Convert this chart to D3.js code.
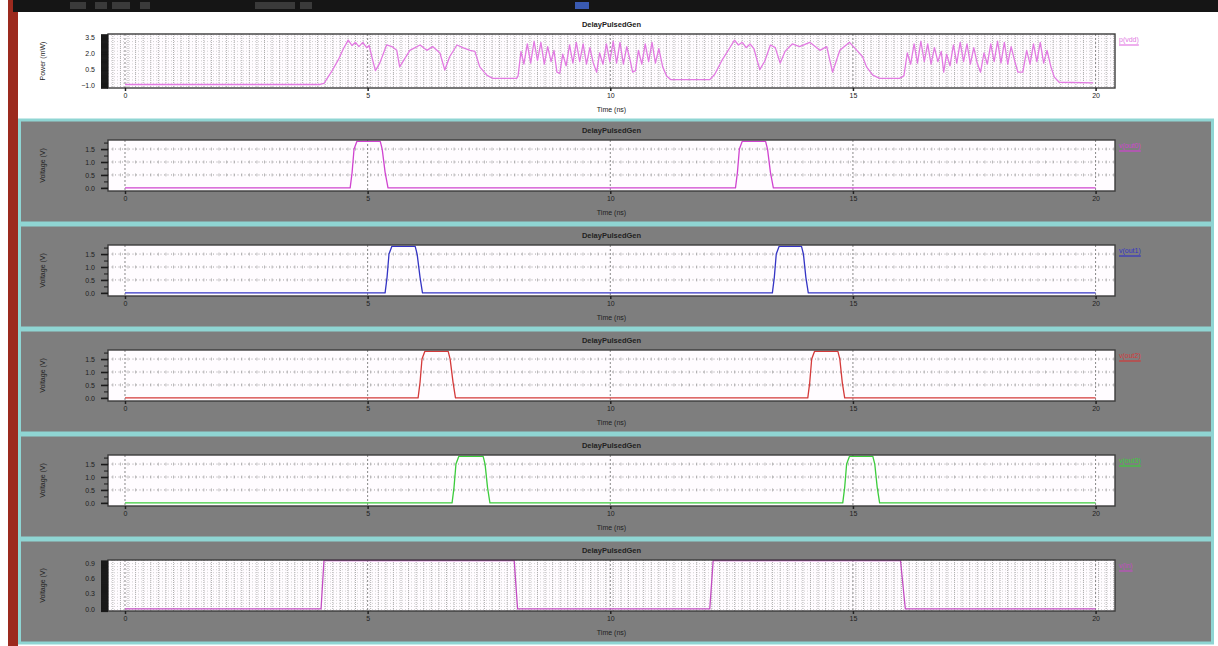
<!DOCTYPE html>
<html>
<head>
<meta charset="utf-8">
<script src="https://cdn.jsdelivr.net/npm/d3@7"></script>
<style>
body { margin: 0; background: #fff; overflow: hidden; }
svg text { font-family: "Liberation Sans", Arial, sans-serif; }
</style>
</head>
<body>
<svg id="chart" width="1218" height="646"></svg>
<script>
// ---- data ----
var chartTitle = "DelayPulsedGen";
var xTitle = "Time (ns)";
var xTickValues = [0, 5, 10, 15, 20];

var legendNames = ["p(vdd)", "v(out0)", "v(out1)", "v(out2)", "v(out3)", "v(in)"];
var yTitles = ["Power (mW)", "Voltage (V)", "Voltage (V)", "Voltage (V)", "Voltage (V)", "Voltage (V)"];

var powerTicks = [3.5, 2.0, 0.5, -1.0];
var pulseTicks = [1.5, 1.0, 0.5, 0.0];
var inTicks = [0.9, 0.6, 0.3, 0.0];

// p(vdd), [time ns, mW]
var powerPts = [
    [0, -0.95], [4.02, -0.95], [4.1, -0.85], [4.25, 0.2], [4.4, 1.4], [4.5, 2.4], [4.6, 3.2],
    [4.68, 2.7], [4.75, 3.0], [4.82, 2.6], [4.9, 3.0], [4.98, 2.5], [5.03, 2.7], [5.1, 1.4],
    [5.16, 0.35], [5.25, 1.05], [5.39, 2.75], [5.5, 2.6], [5.6, 2.25], [5.66, 0.7], [5.87, 2.25],
    [6.08, 2.75], [6.22, 2.25], [6.34, 2.6], [6.49, 2.0], [6.59, 0.4], [6.69, 1.65], [6.84, 2.75],
    [6.96, 2.5], [7.11, 2.25], [7.21, 2.15], [7.31, 0.7], [7.46, -0.1], [7.58, -0.38], [8.07, -0.38],
    [8.1, -0.15], [8.16, 2.15], [8.22, 0.95], [8.29, 2.85], [8.36, 1.05], [8.43, 3.1], [8.5, 1.3],
    [8.57, 3.0], [8.64, 0.95], [8.71, 2.6], [8.78, 1.2], [8.84, 2.25], [8.9, 0.2],
    [8.96, 0.1], [9.02, 1.9], [9.09, 0.8], [9.16, 2.75], [9.23, 1.05], [9.3, 3.0], [9.37, 1.2],
    [9.44, 2.85], [9.51, 0.95], [9.58, 2.5], [9.65, 1.05], [9.72, 0.2],
    [9.78, 2.0], [9.85, 0.95], [9.92, 2.85], [9.99, 1.2], [10.06, 3.1], [10.13, 1.05], [10.2, 3.0],
    [10.27, 0.95], [10.34, 2.6], [10.41, 1.3], [10.46, 0.2],
    [10.52, 0.35], [10.58, 2.25], [10.65, 0.95], [10.72, 2.85], [10.79, 1.2], [10.86, 3.0],
    [10.93, 1.05], [11.0, 2.4], [11.08, 0.7], [11.16, -0.15], [11.25, -0.5], [12.05, -0.5],
    [12.15, -0.02], [12.3, 1.3], [12.45, 2.4], [12.56, 3.2], [12.64, 2.75], [12.72, 3.0], [12.8, 2.5],
    [12.88, 2.85], [12.96, 2.4], [13.02, 1.4], [13.08, 0.45], [13.18, 1.2], [13.3, 2.75], [13.4, 2.5],
    [13.5, 1.05], [13.6, 2.15], [13.75, 2.85], [13.9, 2.6], [14.11, 3.0], [14.32, 2.25], [14.46, 2.6],
    [14.58, 0.2], [14.73, 2.25], [14.93, 3.0], [15.08, 2.25], [15.2, 1.65], [15.28, 0.7], [15.41, -0.08],
    [15.55, -0.38], [15.96, -0.38],
    [16.05, -0.15], [16.12, 2.0], [16.19, 0.95], [16.26, 2.85], [16.33, 1.05], [16.4, 3.1], [16.47, 1.2],
    [16.54, 2.85], [16.61, 0.95], [16.68, 2.5], [16.75, 1.2], [16.82, 2.15], [16.87, 0.2],
    [16.93, 1.9], [17.0, 0.8], [17.07, 2.75], [17.14, 1.05], [17.21, 3.0], [17.28, 1.2], [17.35, 2.85],
    [17.42, 0.95], [17.49, 2.5], [17.56, 1.05], [17.63, 0.2],
    [17.7, 2.0], [17.77, 0.95], [17.84, 2.85], [17.91, 1.2], [17.98, 3.1], [18.05, 1.05], [18.12, 3.0],
    [18.19, 0.95], [18.26, 2.6], [18.33, 1.3], [18.4, 0.2], [18.5, 0.2],
    [18.58, 2.25], [18.65, 0.95], [18.72, 2.85], [18.79, 1.2], [18.86, 3.0], [18.93, 1.05], [19.0, 2.25],
    [19.08, 0.7], [19.15, -0.26], [19.25, -0.74], [19.95, -0.8]
];

// delayed pulses, [time ns, V]
var out0Pts = [[0, 0], [4.64, 0], [4.68, 0.6], [4.72, 1.5], [4.78, 1.8], [5.26, 1.8], [5.3, 1.5], [5.36, 0.6], [5.42, 0],
    [12.58, 0], [12.62, 0.6], [12.66, 1.5], [12.72, 1.8], [13.2, 1.8], [13.24, 1.5], [13.3, 0.6], [13.36, 0], [20, 0]];
var out1Pts = [[0, 0], [5.36, 0], [5.4, 0.6], [5.44, 1.5], [5.5, 1.8], [5.98, 1.8], [6.02, 1.5], [6.08, 0.6], [6.13, 0],
    [13.34, 0], [13.38, 0.6], [13.42, 1.5], [13.48, 1.8], [13.94, 1.8], [13.98, 1.5], [14.03, 0.6], [14.08, 0], [20, 0]];
var out2Pts = [[0, 0], [6.04, 0], [6.08, 0.6], [6.12, 1.5], [6.18, 1.8], [6.66, 1.8], [6.7, 1.5], [6.76, 0.6], [6.81, 0],
    [14.07, 0], [14.11, 0.6], [14.15, 1.5], [14.21, 1.8], [14.69, 1.8], [14.73, 1.5], [14.78, 0.6], [14.83, 0], [20, 0]];
var out3Pts = [[0, 0], [6.74, 0], [6.78, 0.6], [6.82, 1.5], [6.88, 1.8], [7.38, 1.8], [7.42, 1.5], [7.47, 0.6], [7.52, 0],
    [14.79, 0], [14.83, 0.6], [14.87, 1.5], [14.93, 1.8], [15.41, 1.8], [15.45, 1.5], [15.5, 0.6], [15.55, 0], [20, 0]];
var inPts = [[0, 0], [4.04, 0], [4.1, 0.95], [8.02, 0.95], [8.09, 0], [12.05, 0], [12.12, 0.95], [15.98, 0.95], [16.08, 0], [20, 0]];

var seriesColors = ["#e27ae2", "#d044d0", "#3434c4", "#d43a3a", "#3ccc3c", "#c24cc2"];

// ---- layout ----
var plotLeft = 108, plotRight = 1115;
var xDomain = [-0.35, 20.4];
var minorStep = 5 / 32;

var panels = [
    {top: 12, height: 106, plotTop: 34, plotBottom: 88, white: true, dense: true,
        yDomain: [-1.28, 3.78], ticks: powerTicks, hStep: 0.3, minor: 0.05, pts: powerPts},
    {top: 120, height: 103, plotTop: 140, plotBottom: 191, yDomain: [-0.12, 1.85], ticks: pulseTicks, minor: 0.25, pts: out0Pts},
    {top: 225, height: 103, plotTop: 245, plotBottom: 296, yDomain: [-0.12, 1.85], ticks: pulseTicks, minor: 0.25, pts: out1Pts},
    {top: 330, height: 103, plotTop: 350, plotBottom: 401, yDomain: [-0.12, 1.85], ticks: pulseTicks, minor: 0.25, pts: out2Pts},
    {top: 435, height: 103, plotTop: 455, plotBottom: 506, yDomain: [-0.12, 1.85], ticks: pulseTicks, minor: 0.25, pts: out3Pts},
    {top: 540, height: 103, plotTop: 560, plotBottom: 611, dense: true,
        yDomain: [-0.04, 0.96], ticks: inTicks, hStep: 0.06, minor: 0.01, pts: inPts}
];

var svg = d3.select("#chart");

// window chrome: red strip on the left, black toolbar on top
svg.append("rect").attr("x", 8).attr("y", 0).attr("width", 10).attr("height", 646).attr("fill", "#9c2a1e");
svg.append("rect").attr("x", 13).attr("y", 0).attr("width", 1205).attr("height", 12).attr("fill", "#151515");
[[70, 16], [95, 12], [112, 18], [140, 10], [255, 40], [300, 12], [575, 14]].forEach(function (b) {
    svg.append("rect").attr("x", b[0]).attr("y", 2).attr("width", b[1]).attr("height", 7)
        .attr("fill", b[0] === 575 ? "#3a5ab0" : "#3a3a3a");
});

function WavePanel(svg, cfg, i) {
    var self = this;
    self.svg = svg;
    self.cfg = cfg;
    self.index = i;
}

WavePanel.prototype.init = function () {
    var self = this;
    var c = self.cfg;
    var color = seriesColors[self.index];
    self.g = self.svg.append("g");

    // panel background
    if (c.white) {
        self.g.append("rect").attr("x", 18).attr("y", c.top).attr("width", 1200).attr("height", c.height)
            .attr("fill", "#ffffff");
    } else {
        self.g.append("rect").attr("x", 19.5).attr("y", c.top).attr("width", 1193).attr("height", c.height)
            .attr("fill", "#7e7e7e").attr("stroke", "#8fd5d3").attr("stroke-width", 3);
    }

    self.xScale = d3.scaleLinear().domain(xDomain).range([plotLeft, plotRight]);
    self.yScale = d3.scaleLinear().domain(c.yDomain).range([c.plotBottom, c.plotTop]);

    // plot area
    self.g.append("rect")
        .attr("x", plotLeft).attr("y", c.plotTop)
        .attr("width", plotRight - plotLeft).attr("height", c.plotBottom - c.plotTop)
        .attr("fill", "#fffcff");

    var grid = self.g.append("g");
    var minorX = d3.range(xDomain[0] + 0.1, xDomain[1], minorStep);
    var y0 = self.yScale.domain()[0], y1 = self.yScale.domain()[1];

    if (c.dense) {
        // dense dotted grid in both directions
        grid.selectAll(".vg").data(minorX).enter().append("line")
            .attr("x1", function (d) { return self.xScale(d); })
            .attr("x2", function (d) { return self.xScale(d); })
            .attr("y1", c.plotTop).attr("y2", c.plotBottom)
            .attr("stroke", "#9c9c9c").attr("stroke-width", 0.8).attr("stroke-dasharray", "1,1");
        grid.selectAll(".hg").data(d3.range(y0 + c.hStep / 2, y1, c.hStep)).enter().append("line")
            .attr("x1", plotLeft).attr("x2", plotRight)
            .attr("y1", function (d) { return self.yScale(d); })
            .attr("y2", function (d) { return self.yScale(d); })
            .attr("stroke", "#b4b4b4").attr("stroke-width", 0.6).attr("stroke-dasharray", "1,2");
    } else {
        // dotted level lines with small crosses
        var levels = c.ticks.filter(function (d) { return d !== 0; });
        levels.forEach(function (lv) {
            var yy = self.yScale(lv);
            grid.append("line").attr("x1", plotLeft).attr("x2", plotRight).attr("y1", yy).attr("y2", yy)
                .attr("stroke", "#8c8c8c").attr("stroke-width", 0.8).attr("stroke-dasharray", "1,2.5");
            grid.selectAll(null).data(minorX).enter().append("line")
                .attr("x1", function (d) { return self.xScale(d); })
                .attr("x2", function (d) { return self.xScale(d); })
                .attr("y1", yy - 1.5).attr("y2", yy + 1.5)
                .attr("stroke", "#9a9a9a").attr("stroke-width", 0.7);
        });
    }

    // major time lines
    grid.selectAll(".mg").data(xTickValues).enter().append("line")
        .attr("x1", function (d) { return self.xScale(d); })
        .attr("x2", function (d) { return self.xScale(d); })
        .attr("y1", c.plotTop).attr("y2", c.plotBottom)
        .attr("stroke", "#7a7a7a").attr("stroke-width", 0.9).attr("stroke-dasharray", "2,2");

    // waveform
    var line = d3.line()
        .x(function (d) { return self.xScale(d[0]); })
        .y(function (d) { return self.yScale(d[1]); });
    self.g.append("path").datum(c.pts)
        .attr("d", line)
        .attr("fill", "none")
        .attr("stroke", color)
        .attr("stroke-width", 1.3)
        .attr("stroke-linejoin", "round");

    // frame
    self.g.append("rect")
        .attr("x", plotLeft).attr("y", c.plotTop)
        .attr("width", plotRight - plotLeft).attr("height", c.plotBottom - c.plotTop)
        .attr("fill", "none").attr("stroke", "#3c3c3c").attr("stroke-width", 1.4);

    // y axis: minor ticks then labelled ticks
    var yMinor = self.g.append("g").attr("transform", "translate(" + plotLeft + ",0)")
        .call(d3.axisLeft(self.yScale).tickValues(d3.range(Math.ceil(y0 / c.minor) * c.minor, y1, c.minor))
            .tickSize(c.dense ? 7 : 4).tickFormat(""));
    yMinor.select(".domain").remove();
    yMinor.selectAll("line").attr("stroke", "#1a1a1a").attr("stroke-width", c.dense ? 1.2 : 1);

    var yAxis = self.g.append("g").attr("transform", "translate(" + plotLeft + ",0)")
        .call(d3.axisLeft(self.yScale).tickValues(c.ticks).tickSize(7).tickPadding(6).tickFormat(d3.format(".1f")));
    yAxis.select(".domain").remove();
    yAxis.selectAll("line").attr("stroke", "#1a1a1a").attr("stroke-width", 1.6);
    yAxis.selectAll("text").attr("font-size", 7).attr("fill", "#222");

    // x axis
    var xAxis = self.g.append("g").attr("transform", "translate(0," + c.plotBottom + ")")
        .call(d3.axisBottom(self.xScale).tickValues(xTickValues).tickSize(3).tickPadding(2));
    xAxis.select(".domain").remove();
    xAxis.selectAll("line").attr("stroke", "#222").attr("stroke-width", 1.5);
    xAxis.selectAll("text").attr("font-size", 7).attr("fill", "#222");

    // titles
    var midX = (plotLeft + plotRight) / 2;
    self.g.append("text").attr("x", midX).attr("y", c.plotTop - 7)
        .attr("text-anchor", "middle").attr("font-size", 7.5).attr("font-weight", "bold").attr("fill", "#222")
        .text(chartTitle);
    self.g.append("text").attr("x", midX).attr("y", c.plotBottom + 24)
        .attr("text-anchor", "middle").attr("font-size", 7).attr("fill", "#222")
        .text(xTitle);
    var midY = (c.plotTop + c.plotBottom) / 2;
    self.g.append("text")
        .attr("transform", "translate(45," + midY + ") rotate(-90)")
        .attr("text-anchor", "middle").attr("font-size", 7).attr("fill", "#222")
        .text(yTitles[self.index]);

    // legend
    var leg = self.g.append("text").attr("x", plotRight + 4).attr("y", c.plotTop + 8)
        .attr("font-size", 7).attr("fill", color).text(legendNames[self.index]);
    var w = leg.node().getComputedTextLength();
    self.g.append("line").attr("x1", plotRight + 4).attr("x2", plotRight + 4 + w)
        .attr("y1", c.plotTop + 11).attr("y2", c.plotTop + 11)
        .attr("stroke", color).attr("stroke-width", 1.2);
};

panels.forEach(function (p, i) {
    var panel = new WavePanel(svg, p, i);
    panel.init();
});
</script>
</body>
</html>
